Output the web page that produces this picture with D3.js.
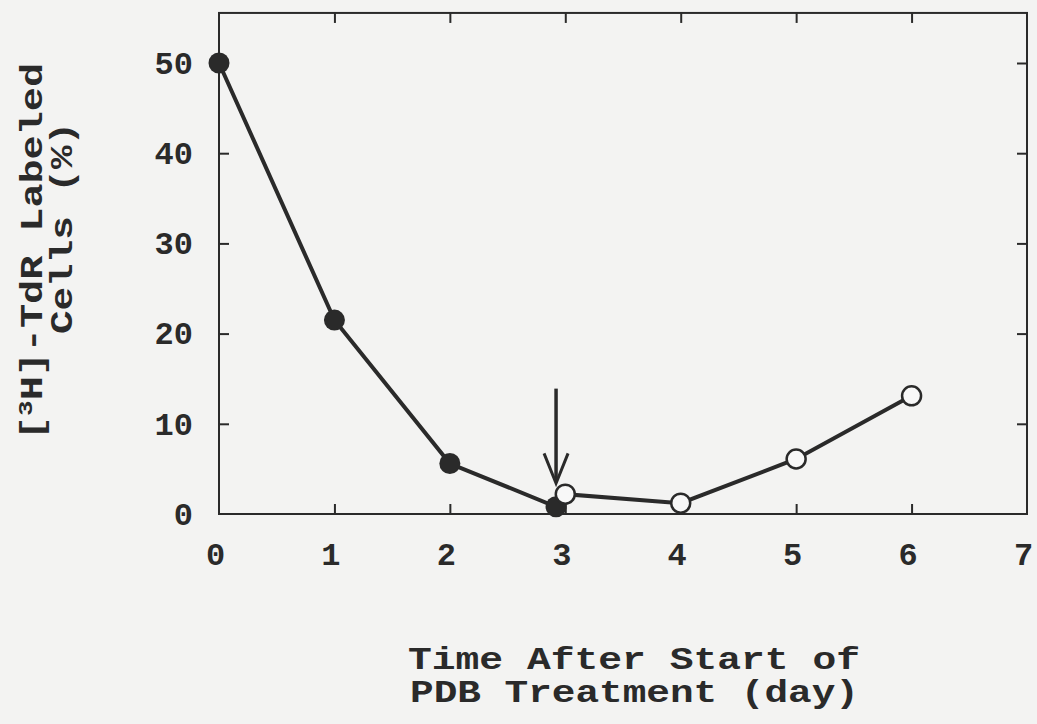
<!DOCTYPE html>
<html>
<head>
<meta charset="utf-8">
<script src="https://cdn.jsdelivr.net/npm/d3@7"></script>
<style>
  html, body { margin: 0; padding: 0; background: #f3f3f2; }
  svg { display: block; }
  text { font-family: "Liberation Mono", "Courier New", monospace; font-weight: bold; fill: #2a2a2a; }
</style>
</head>
<body>
<svg id="chart" width="1037" height="724"></svg>
<script>
// ---- data ----
const filledDays   = [0, 1, 2, 2.92];
const filledValues = [50, 21.5, 5.6, 0.8];
const openDays     = [3, 4, 5, 6];
const openValues   = [2.2, 1.2, 6.1, 13.1];
const xTicks = [0, 1, 2, 3, 4, 5, 6, 7];
const yTicks = [0, 10, 20, 30, 40, 50];
const arrowDay = 2.92, arrowFrom = 13.9, arrowTo = 3.4;
const xTitle = ["Time After Start of", "PDB Treatment (day)"];

// ---- layout ----
const ink = "#2a2a2a";
const svg = d3.select("#chart");
const x = d3.scaleLinear().domain([0, 7]).range([219, 1027]);
const y = d3.scaleLinear().domain([0, 50]).range([514, 63]);
const yTop = y(55.55);

// frame
svg.append("rect")
  .attr("x", x(0)).attr("y", yTop)
  .attr("width", x(7) - x(0)).attr("height", y(0) - yTop)
  .attr("fill", "none").attr("stroke", ink).attr("stroke-width", 2);

// inward ticks (all four sides)
const inner = xTicks.filter(d => d > 0 && d < 7);
const innerY = yTicks.filter(d => d > 0);
function styleAxis(g) {
  g.select(".domain").remove();
  g.selectAll("line").attr("stroke", ink).attr("stroke-width", 2);
}
svg.append("g").attr("transform", `translate(0,${y(0)})`)
  .call(d3.axisBottom(x).tickValues(inner).tickSize(-10).tickFormat(""))
  .call(styleAxis);
svg.append("g").attr("transform", `translate(0,${yTop})`)
  .call(d3.axisTop(x).tickValues(inner).tickSize(-10).tickFormat(""))
  .call(styleAxis);
svg.append("g").attr("transform", `translate(${x(0)},0)`)
  .call(d3.axisLeft(y).tickValues(innerY).tickSize(-10).tickFormat(""))
  .call(styleAxis);
svg.append("g").attr("transform", `translate(${x(7)},0)`)
  .call(d3.axisRight(y).tickValues(innerY).tickSize(-10).tickFormat(""))
  .call(styleAxis);

// tick labels
const xl = svg.append("g").attr("transform", `translate(0,${y(0)})`)
  .call(d3.axisBottom(x).tickValues(xTicks).tickSize(0).tickPadding(28).tickFormat(d3.format("d")));
xl.select(".domain").remove();
xl.selectAll("text").attr("font-size", 32).attr("fill", ink).attr("dx", -4)
  .attr("font-family", "Liberation Mono").attr("font-weight", "bold");

const yl = svg.append("g").attr("transform", `translate(${x(0)},0)`)
  .call(d3.axisLeft(y).tickValues(yTicks).tickSize(0).tickPadding(26).tickFormat(d3.format("d")));
yl.select(".domain").remove();
yl.selectAll("text").attr("font-size", 32).attr("fill", ink)
  .attr("font-family", "Liberation Mono").attr("font-weight", "bold");

// connecting line
const pts = filledDays.map((d, i) => [d, filledValues[i]])
  .concat(openDays.map((d, i) => [d, openValues[i]]));
svg.append("path")
  .datum(pts)
  .attr("d", d3.line().x(d => x(d[0])).y(d => y(d[1])))
  .attr("fill", "none").attr("stroke", ink).attr("stroke-width", 4);

// markers
svg.selectAll(".filled").data(filledDays).join("circle")
  .attr("cx", d => x(d)).attr("cy", (d, i) => y(filledValues[i]))
  .attr("r", 10.5).attr("fill", ink);
svg.selectAll(".open").data(openDays).join("circle")
  .attr("cx", d => x(d)).attr("cy", (d, i) => y(openValues[i]))
  .attr("r", 9.5).attr("fill", "#f8f8f8").attr("stroke", ink).attr("stroke-width", 2.5);

// arrow
const ax = x(arrowDay), a0 = y(arrowFrom), a1 = y(arrowTo);
svg.append("line").attr("x1", ax).attr("x2", ax).attr("y1", a0).attr("y2", a1 - 2)
  .attr("stroke", ink).attr("stroke-width", 3.5);
svg.append("path")
  .attr("d", `M${ax - 12},${a1 - 30} L${ax},${a1} L${ax + 12},${a1 - 30}`)
  .attr("fill", "none").attr("stroke", ink).attr("stroke-width", 3);

// x title
svg.append("text").attr("x", 408).attr("y", 669)
  .attr("font-size", 31).attr("textLength", 452).attr("lengthAdjust", "spacingAndGlyphs")
  .text(xTitle[0]);
svg.append("text").attr("x", 410).attr("y", 702)
  .attr("font-size", 31).attr("textLength", 449).attr("lengthAdjust", "spacingAndGlyphs")
  .text(xTitle[1]);

// y title (rotated)
const t1 = svg.append("text")
  .attr("transform", "translate(42,440) rotate(-90)")
  .attr("font-size", 31).attr("textLength", 377).attr("lengthAdjust", "spacingAndGlyphs");
t1.append("tspan").text("[");
t1.append("tspan").attr("font-size", 20).attr("dy", -10).text("3");
t1.append("tspan").attr("dy", 10).text("H]-TdR Labeled");
svg.append("text")
  .attr("transform", "translate(72,334) rotate(-90)")
  .attr("font-size", 31).attr("textLength", 212).attr("lengthAdjust", "spacingAndGlyphs")
  .text("Cells (%)");
</script>
</body>
</html>
